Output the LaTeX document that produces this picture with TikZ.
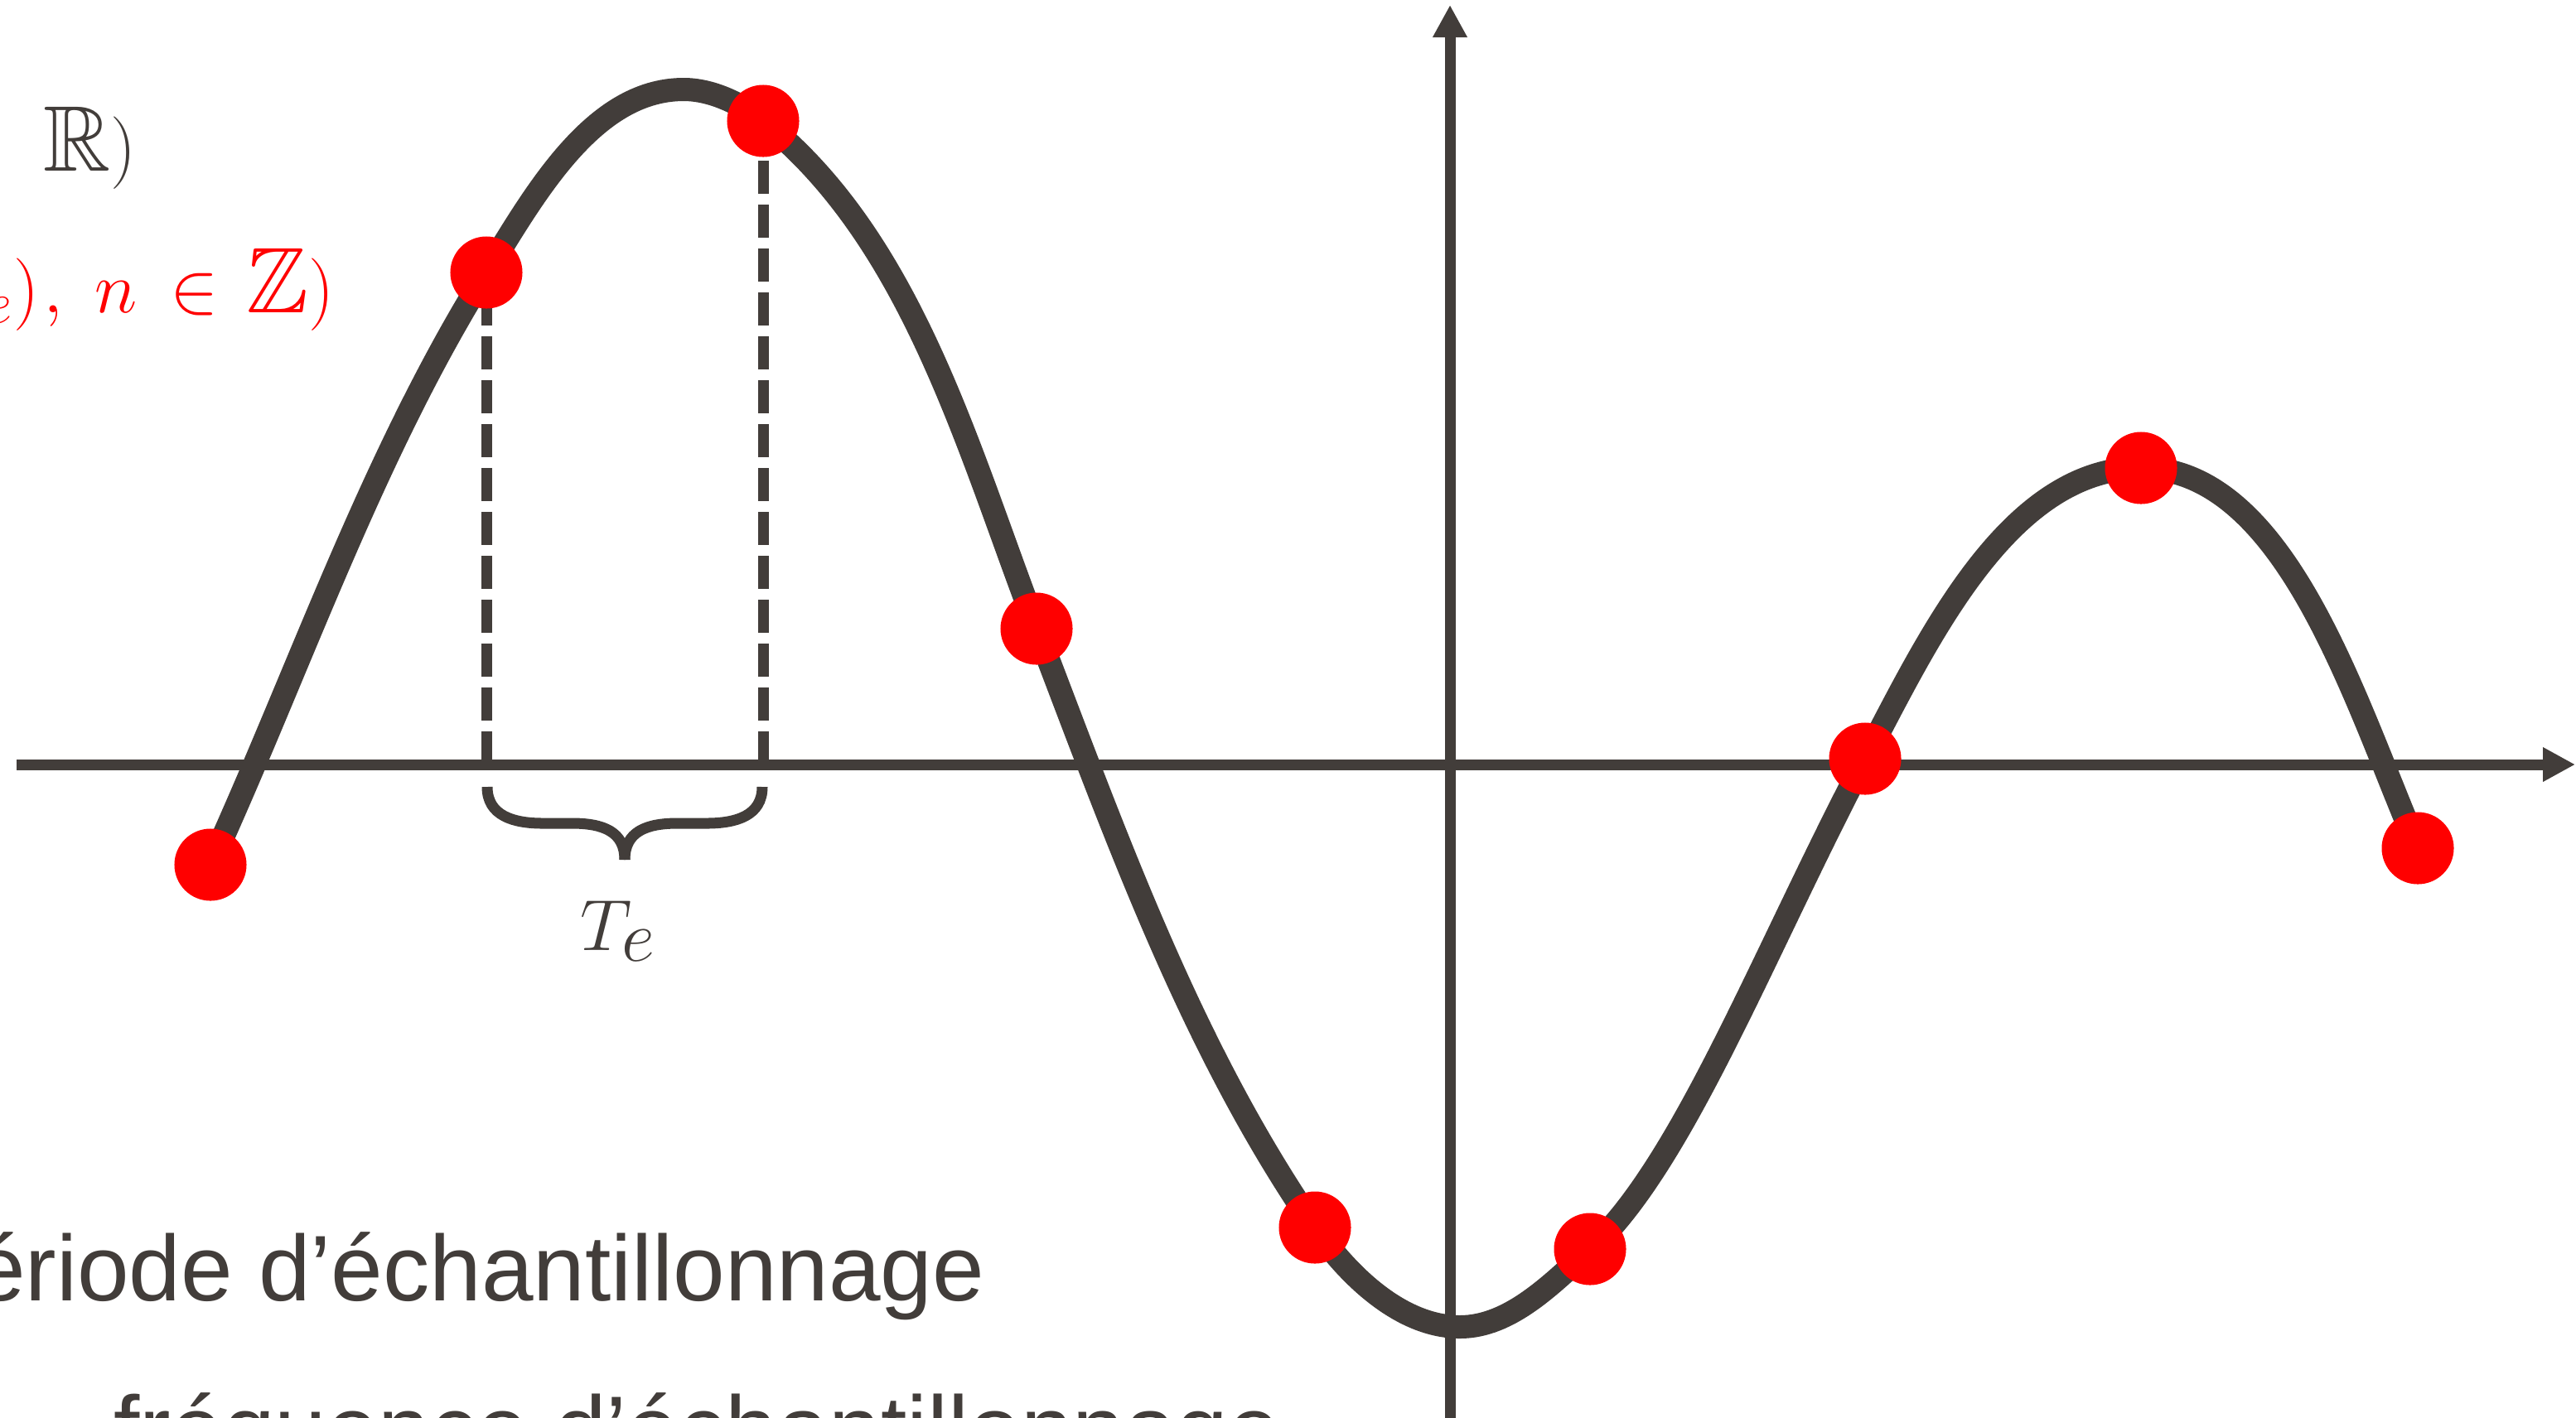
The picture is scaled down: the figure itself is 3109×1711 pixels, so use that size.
\documentclass[tikz,border=0pt]{standalone}
\usepackage[no-math]{fontspec}
\usepackage{amssymb}
\usetikzlibrary{arrows.meta}
\newfontfamily\arialfont{Liberation Sans}
\definecolor{ink}{RGB}{66,61,58}
\definecolor{pure}{RGB}{255,0,0}
\tikzset{
  axisline/.style={draw=ink, line width=0.13cm, -{Triangle[length=0.39cm,width=0.39cm]}},
  dashline/.style={draw=ink, line width=0.13cm, dash pattern=on 0.4cm off 0.13cm},
  signal/.style={draw=ink, line width=0.28cm, line cap=round},
  bracestyle/.style={draw=ink, line width=0.13cm},
  sample/.style={circle, fill=pure, draw=none, minimum size=0.87cm, inner sep=0pt},
  label/.style={inner sep=0pt, text=ink, font=\fontsize{32}{38}\selectfont},
  textlabel/.style={inner sep=0pt, text=ink, font=\arialfont\fontsize{32}{38}\selectfont},
}
\begin{document}
\begin{tikzpicture}[x=0.01cm, y=-0.01cm]
\useasboundingbox (0,0) rectangle (3109,1711);
\clip (0,0) rectangle (3109,1711);
% axes
\coordinate (xs) at (20,923);
\coordinate (xe) at (3108,923);
\coordinate (ys) at (1750,1720);
\coordinate (ye) at (1750,6);
\draw[axisline] (xs) -- (xe);
\draw[axisline] (ys) -- (ye);
% sample coordinates
\coordinate (p1) at (254,1044);
\coordinate (p2) at (587,329);
\coordinate (p3) at (921,146);
\coordinate (p4) at (1251,759);
\coordinate (p5) at (1587,1482);
\coordinate (p6) at (1919,1508);
\coordinate (p7) at (2251,916);
\coordinate (p8) at (2584,565);
\coordinate (p9) at (2918,1024);
\coordinate (pk) at (825,108);
\coordinate (pm) at (1762,1602);
% dashed projections
\coordinate (a2) at (587,923);
\coordinate (a3) at (921,923);
\draw[dashline] (a2) -- (p2);
\draw[dashline] (a3) -- (p3);
% signal
\draw[signal] (p1) .. controls (363,805) and (448,552) .. (p2)
  .. controls (644,237) and (715,108) .. (pk)
  .. controls (859,108) and (894,125) .. (p3)
  .. controls (1102,291) and (1168,543) .. (p4)
  .. controls (1346,1007) and (1436,1263) .. (p5)
  .. controls (1627,1540) and (1691,1602) .. (pm)
  .. controls (1823,1602) and (1874,1549) .. (p6)
  .. controls (2030,1408) and (2130,1146) .. (p7)
  .. controls (2326,774) and (2423,565) .. (p8)
  .. controls (2760,565) and (2843,851) .. (p9);
% samples
\foreach \i in {1,...,9} { \node[sample] (s\i) at (p\i) {}; }
% brace
\coordinate (bl) at (588,950);
\coordinate (br) at (920,950);
\coordinate (bt) at (754,1038);
\draw[bracestyle] (bl) .. controls (588,985) and (620,994) .. (655,994) -- (690,994)
   .. controls (728,994) and (754,1004) .. (bt);
\draw[bracestyle] (br) .. controls (920,985) and (888,994) .. (853,994) -- (818,994)
   .. controls (780,994) and (754,1004) .. (bt);
% labels
\node[label, anchor=base west] (te) at (700,1147) {$T_{\scalebox{1.2}{$\scriptstyle e$}}$};
\node[label, anchor=base east] (lr) at (165,206) {${\in}\mkern9mu\mathbb{R})$};
\node[label, anchor=base west, text=pure] (lz) at (-19,377) {${}_e)\mkern1mu,\mkern5mu n\mkern8mu{\in}\mkern7mu\mathbb{Z})$};
\node[textlabel, anchor=base east] (t1) at (1189,1570) {ériode d’échantillonnage};
\node[textlabel, anchor=base west] (t2) at (137,1764) {fréquence d’échantillonnage};
\end{tikzpicture}
\end{document}
